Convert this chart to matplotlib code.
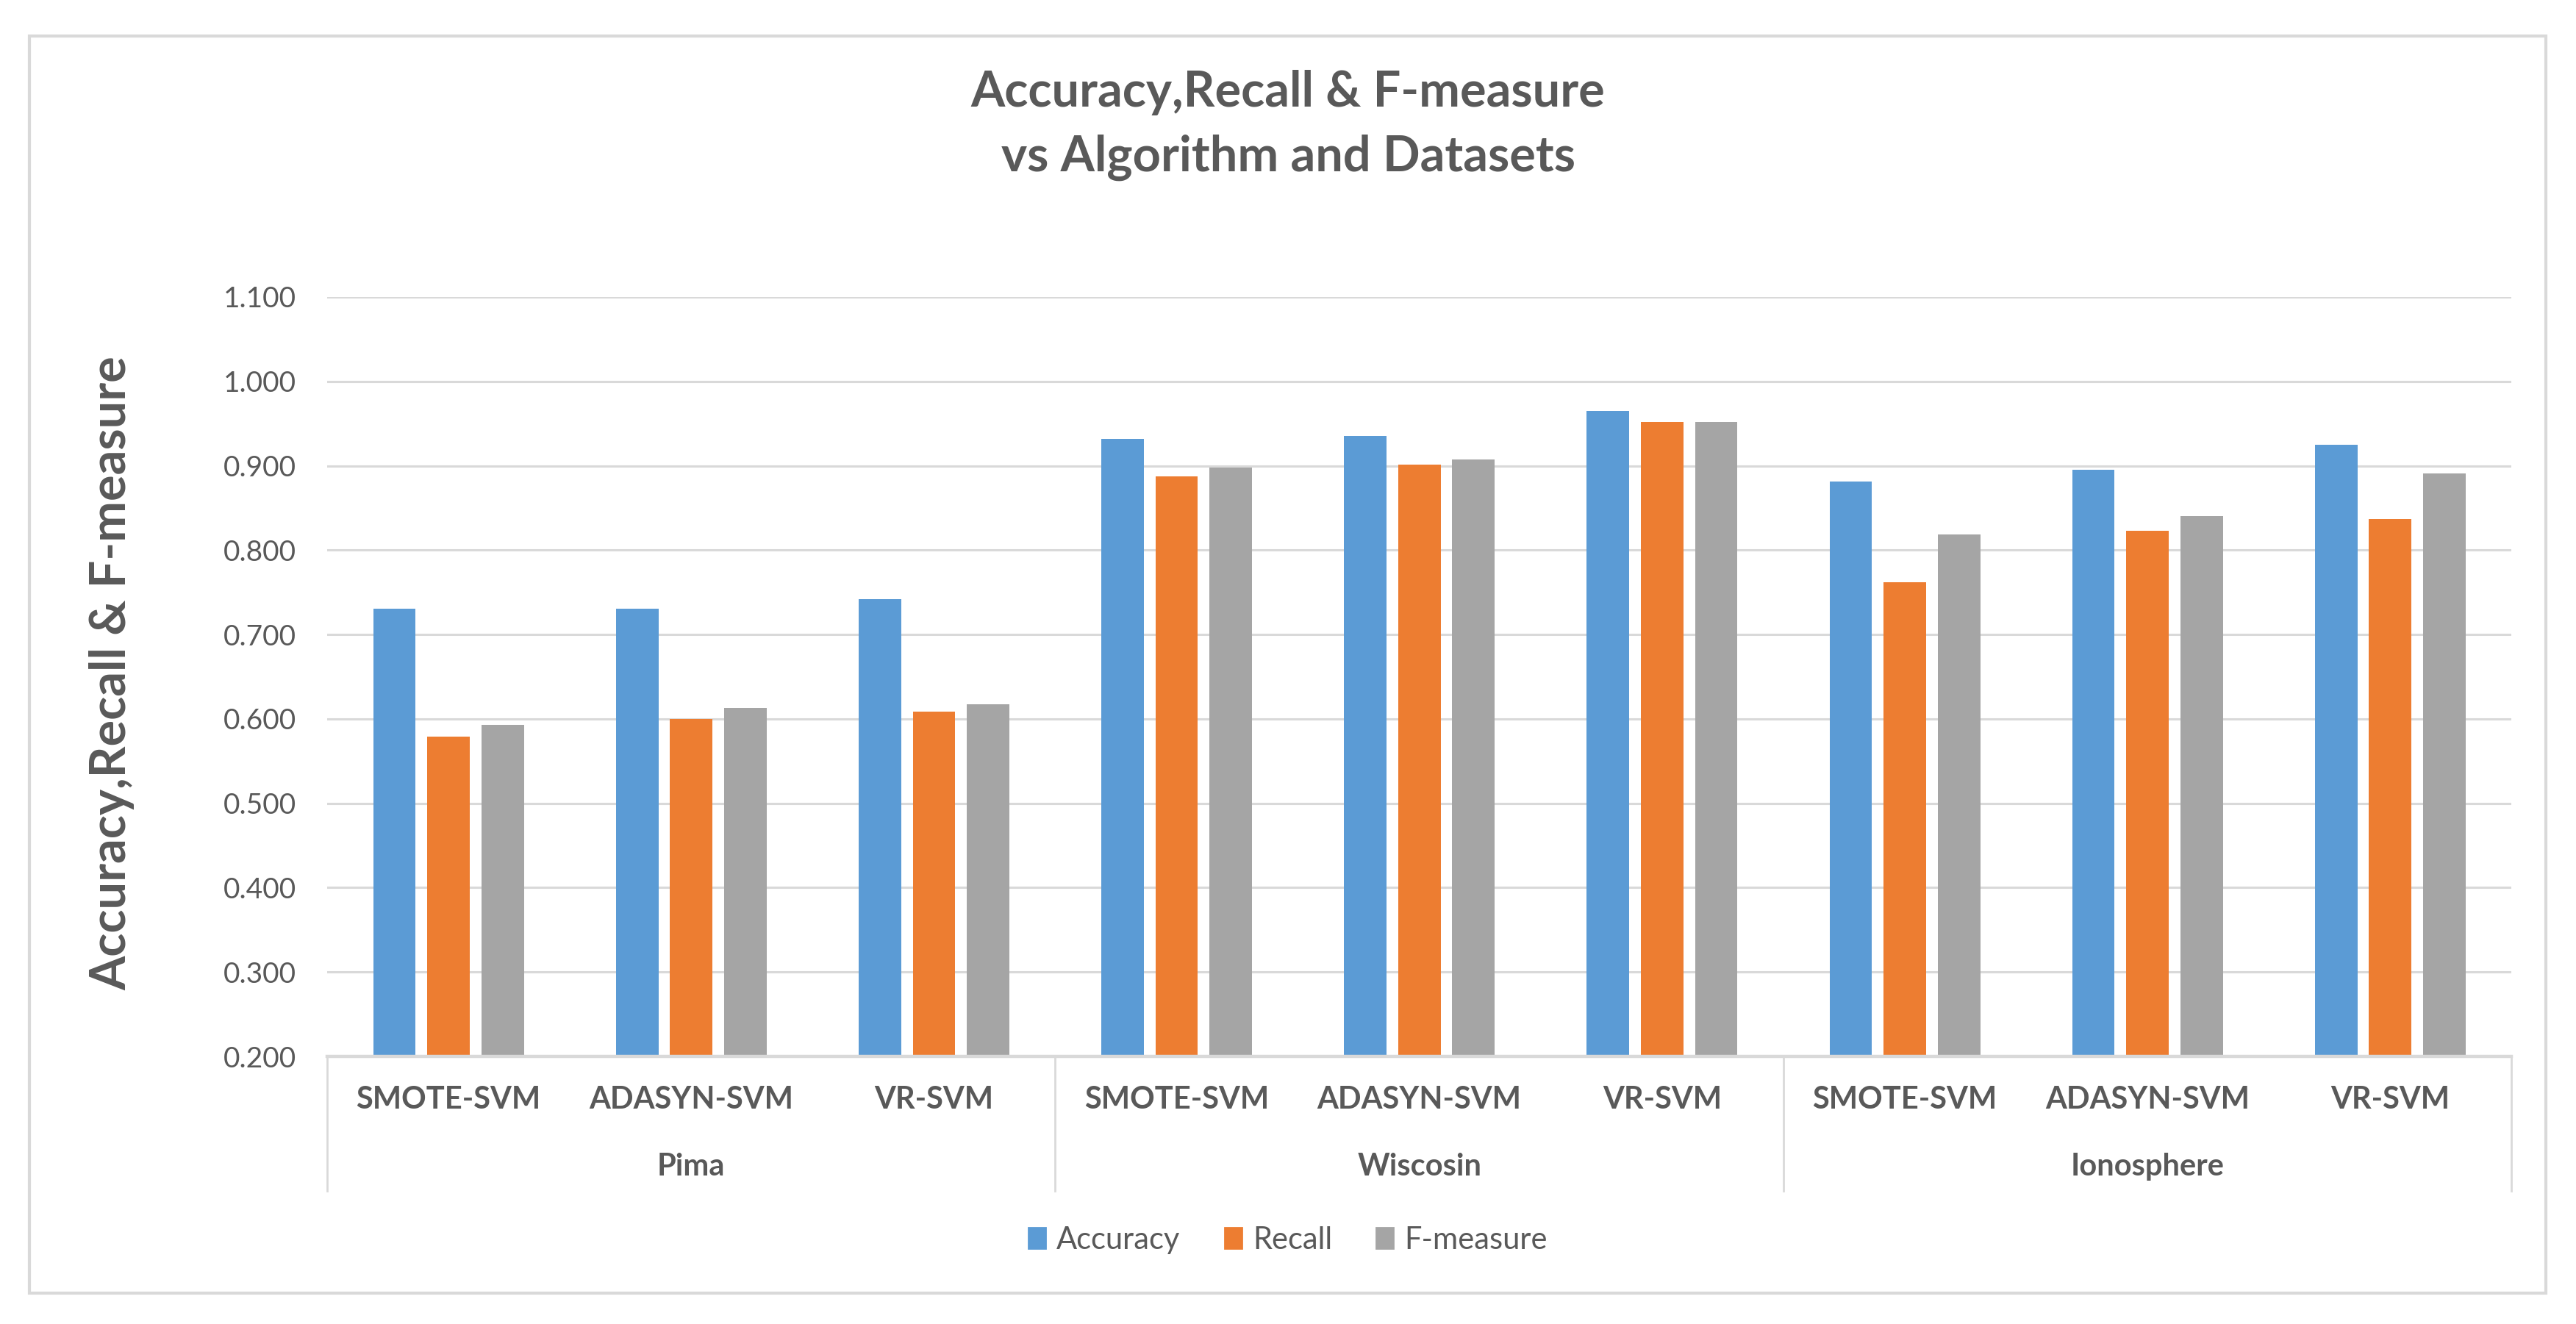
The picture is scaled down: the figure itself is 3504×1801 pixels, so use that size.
import numpy as np
import matplotlib
matplotlib.use("Agg")
import matplotlib.pyplot as plt
from matplotlib.patches import Patch, Rectangle
from matplotlib.ticker import MultipleLocator, FormatStrFormatter

datasets = ['Pima', 'Wiscosin', 'Ionosphere']
algorithms = ['SMOTE-SVM', 'ADASYN-SVM', 'VR-SVM']
series = ['Accuracy', 'Recall', 'F-measure']

accuracy = [0.731, 0.731, 0.742, 0.932, 0.935, 0.965, 0.881, 0.895, 0.925]
recall = [0.579, 0.600, 0.609, 0.887, 0.901, 0.952, 0.762, 0.823, 0.837]
fmeasure = [0.593, 0.613, 0.617, 0.898, 0.907, 0.952, 0.819, 0.840, 0.891]

colors = ['#5B9BD5', '#ED7D31', '#A5A5A5']
text_col = '#595959'
grid_col = '#D9D9D9'

plt.rcParams['font.family'] = ['Lato', 'DejaVu Sans']

fig = plt.figure(figsize=(17.52, 9.005), dpi=200)
ax = fig.add_axes([0.127, 0.2021, 0.848, 0.5736])

x = np.arange(len(algorithms) * len(datasets))
width = 0.175
step = 0.223
for i, (vals, c) in enumerate(zip([accuracy, recall, fmeasure], colors)):
    ax.bar(x + (i - 1) * step, vals, width, color=c, zorder=3)

ax.set_xlim(-0.5, len(x) - 0.5)
ax.set_ylim(0.2, 1.1)
ax.yaxis.set_major_locator(MultipleLocator(0.1))
ax.yaxis.set_major_formatter(FormatStrFormatter('%.3f'))
ax.grid(axis='y', color=grid_col, linewidth=1.1, zorder=0)
ax.tick_params(axis='y', length=0, pad=15, labelsize=14, labelcolor=text_col)
ax.set_xticks([])
for s in ['top', 'right', 'left']:
    ax.spines[s].set_visible(False)
ax.spines['bottom'].set_color(grid_col)
ax.spines['bottom'].set_linewidth(1.6)
ax.spines['bottom'].set_zorder(4)

# two-level category axis
tr = ax.get_xaxis_transform()
labels = algorithms * len(datasets)
for xi, lab in zip(x, labels):
    ax.text(xi, -0.057, lab, transform=tr, ha='center', va='center',
            fontsize=15, fontweight='bold', color=text_col)
n = len(algorithms)
for g, name in enumerate(datasets):
    ax.text(g * n + (n - 1) / 2, -0.145, name, transform=tr, ha='center',
            va='center', fontsize=15, fontweight='bold', color=text_col)
for b in range(len(datasets) + 1):
    ax.plot([b * n - 0.5, b * n - 0.5], [0, -0.177], transform=tr,
            color=grid_col, linewidth=1.0, clip_on=False)

fig.text(0.5, 0.9195, 'Accuracy,Recall & F-measure', ha='center', va='baseline',
         fontsize=24, fontweight='bold', color=text_col)
fig.text(0.5, 0.8706, 'vs Algorithm and Datasets', ha='center', va='baseline',
         fontsize=24, fontweight='bold', color=text_col)
fig.text(0.0434, 0.4914, 'Accuracy,Recall & F-measure', rotation=90,
         ha='center', va='center', fontsize=24, fontweight='bold', color=text_col)

handles = [Patch(color=c, label=s) for c, s in zip(colors, series)]
fig.legend(handles=handles, loc='center', bbox_to_anchor=(0.5, 0.0633), ncol=3,
           frameon=False, fontsize=15, labelcolor=text_col, handlelength=0.55,
           handleheight=0.65, handletextpad=0.36, columnspacing=1.45)

fig.patches.append(Rectangle((0.0114, 0.0233), 0.977, 0.9495, transform=fig.transFigure,
                             fill=False, edgecolor=grid_col, linewidth=1.5))

fig.savefig('out.png', dpi=200)
